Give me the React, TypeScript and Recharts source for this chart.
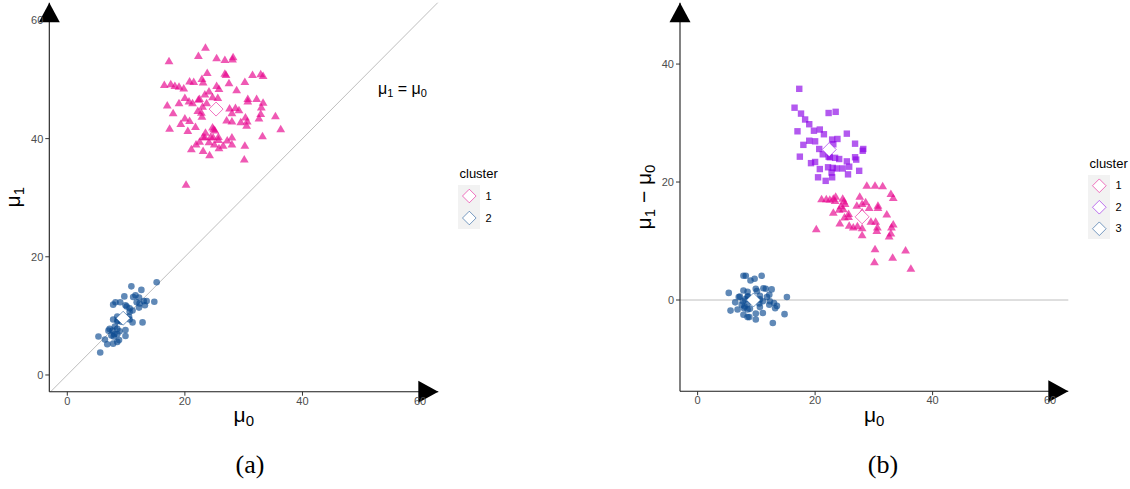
import React from 'react';
import { ScatterChart, Scatter, XAxis, YAxis, ReferenceLine, ReferenceDot, Label } from 'recharts';

// ---- data (mu0, mu1 - mu0) ----
const pinkPairs: number[][] = [
  [28.8, 19.4], [30.2, 19.4], [31.5, 19.3], [32.9, 18.0], [33.3, 17.3], [21.1, 17.1], [22.5, 17.0],
  [23.1, 17.2], [23.5, 17.5], [24.7, 17.2], [24.9, 16.7], [25.1, 16.3], [27.6, 17.5], [28.0, 16.3],
  [28.6, 16.6], [29.2, 15.6], [30.7, 16.0], [23.1, 14.8], [24.1, 15.3], [24.8, 15.4], [25.7, 14.6],
  [25.0, 14.0], [24.2, 13.0], [25.7, 14.1], [25.8, 12.6], [27.2, 12.5], [28.0, 12.2], [28.0, 11.0],
  [29.5, 13.3], [30.3, 13.3], [30.6, 12.3], [30.5, 11.7], [32.2, 14.5], [33.3, 12.8], [33.0, 12.3],
  [32.9, 11.3], [32.6, 10.8], [20.2, 12.0], [30.2, 8.6], [35.4, 8.4], [33.2, 7.2], [30.1, 6.4],
  [36.3, 5.3], [30.7, 15.6], [26.5, 12.3], [23.4, 16.8], [27.1, 16.0], [28.0, 14.9], [21.9, 17.1],
  [24.4, 15.9],
];
const purplePairs: number[][] = [
  [17.3, 35.8], [16.5, 32.6], [17.6, 31.6], [18.3, 30.6], [19.0, 29.8], [22.3, 31.7], [23.5, 31.9],
  [17.0, 28.6], [19.8, 28.7], [20.8, 28.9], [21.5, 28.1], [25.4, 28.2], [19.0, 27.0], [20.0, 26.9],
  [18.0, 26.3], [22.9, 27.2], [23.8, 27.3], [26.8, 26.5], [20.7, 25.6], [23.1, 26.4], [17.4, 24.3],
  [28.2, 25.6], [28.1, 25.3], [20.0, 23.4], [21.3, 24.7], [22.5, 24.2], [23.4, 24.1], [24.1, 23.9],
  [25.4, 23.5], [26.8, 24.2], [27.0, 23.8], [20.8, 22.2], [22.2, 22.5], [23.0, 22.4], [23.7, 22.3],
  [24.7, 22.3], [25.8, 22.6], [22.8, 21.6], [27.5, 21.9], [20.5, 20.8], [22.9, 20.8], [25.6, 21.3],
  [21.8, 20.2], [19.3, 23.2], [22.3, 24.3],
];
const bluePairs: number[][] = [
  [7.8, 4.1], [8.2, 4.1], [9.0, 3.3], [9.7, 3.6], [10.9, 4.1], [5.3, 1.2], [7.8, 1.6], [8.5, 1.4],
  [9.9, 1.9], [11.2, 2.0], [11.6, 1.9], [12.6, 1.8], [7.2, 0.6], [7.0, 0.5], [10.6, 0.7], [12.2, 0.9],
  [15.2, 0.5], [6.4, -0.4], [7.7, -0.2], [8.5, -0.7], [10.5, -0.6], [12.2, -0.8], [13.0, -0.5],
  [13.5, -1.0], [13.2, -1.4], [5.6, -1.8], [6.8, -1.6], [7.9, -1.4], [8.5, -1.6], [8.9, -1.5],
  [10.6, -1.2], [7.8, -2.5], [8.5, -2.9], [8.8, -2.9], [9.9, -2.3], [11.1, -2.2], [9.9, -3.3],
  [12.8, -3.9], [14.8, -2.4], [8.6, 0.6], [8.1, 0.1], [9.2, -0.2], [10.1, 1.5], [11.1, -0.2],
  [11.8, 0.5], [7.5, -0.8], [8.0, -1.1], [8.5, 0.6], [10.6, 0.1], [12.3, -0.2],
];
// centroids (mu0, value)
const leftCentroids = [
  { x: 25.3, y: 45.0, c: 1 },
  { x: 9.5, y: 9.6, c: 2 },
];
const rightCentroids = [
  { x: 28.0, y: 14.1, c: 1 },
  { x: 22.4, y: 25.5, c: 2 },
  { x: 9.5, y: 0.0, c: 3 },
];
const axisTicks = [0, 20, 40, 60];
const rightYTicks = [0, 20, 40];
const leftLegendLabels = ['1', '2'];
const rightLegendLabels = ['1', '2', '3'];

const PINK = '#E6008C';
const PURPLE = '#8A00E6';
const BLUE = '#0B4A91';
const SANS = '"Liberation Sans", Arial, sans-serif';

const toLeft = (pairs: number[][]) => pairs.map(([m0, d]) => ({ x: m0, y: Math.round((m0 + d) * 10) / 10 }));
const toRight = (pairs: number[][]) => pairs.map(([m0, d]) => ({ x: m0, y: d }));

const leftC1 = toLeft([...pinkPairs, ...purplePairs]);
const leftC2 = toLeft(bluePairs);
const rightC1 = toRight(pinkPairs);
const rightC2 = toRight(purplePairs);
const rightC3 = toRight(bluePairs);

const OP = 0.65;
const Tri = (color: string) => (p: any) => {
  const { cx, cy } = p;
  if (cx == null || cy == null) return <g />;
  return (
    <polygon
      points={`${cx},${cy - 4.4} ${cx + 4.4},${cy + 3.1} ${cx - 4.4},${cy + 3.1}`}
      fill={color}
      fillOpacity={OP}
    />
  );
};
const Sq = (color: string) => (p: any) => {
  const { cx, cy } = p;
  if (cx == null || cy == null) return <g />;
  return <rect x={cx - 3.2} y={cy - 3.2} width={6.4} height={6.4} fill={color} fillOpacity={OP} />;
};
const Circ = (color: string) => (p: any) => {
  const { cx, cy } = p;
  if (cx == null || cy == null) return <g />;
  return <circle cx={cx} cy={cy} r={3.3} fill={color} fillOpacity={OP} />;
};
const colorFor = (c: number, n: number) => (n === 2 ? (c === 1 ? PINK : BLUE) : c === 1 ? PINK : c === 2 ? PURPLE : BLUE);
const Diamond = (n: number) => (p: any) => {
  const { cx, cy, payload } = p;
  if (cx == null || cy == null) return <g />;
  const col = colorFor(payload.c, n);
  const r = 7;
  return (
    <polygon
      points={`${cx},${cy - r} ${cx + r},${cy} ${cx},${cy + r} ${cx - r},${cy}`}
      fill="#fff"
      stroke={col}
      strokeOpacity={0.55}
      strokeWidth={1}
    />
  );
};
const UpArrow = (p: any) => {
  const { cx, cy } = p;
  return <polygon points={`${cx},${cy} ${cx + 10.5},${cy + 19.5} ${cx - 10.5},${cy + 19.5}`} fill="#000" />;
};
const RightArrow = (p: any) => {
  const { cx, cy } = p;
  return <polygon points={`${cx},${cy} ${cx - 20},${cy - 11} ${cx - 20},${cy + 11}`} fill="#000" />;
};
const AnnText = (p: any) => {
  const { cx, cy } = p;
  return (
    <text x={cx} y={cy} textAnchor="middle" fontFamily={SANS} fontSize={16} fill="#000">
      μ<tspan fontSize={11} dy={3}>1</tspan>
      <tspan dy={-3}> = μ</tspan>
      <tspan fontSize={11} dy={3}>0</tspan>
    </text>
  );
};

const XTitle = (props: any) => {
  const vb = props.viewBox || {};
  const x = vb.x + vb.width / 2;
  const y = vb.y + 30.5;
  return (
    <text x={x} y={y} textAnchor="middle" fontFamily={SANS} fontSize={21} fill="#000">
      μ<tspan fontSize={15} dy={4}>0</tspan>
    </text>
  );
};
const YTitle = (diff: boolean) => (props: any) => {
  const vb = props.viewBox || {};
  const x = vb.x + vb.width - 28.8;
  const y = vb.y + vb.height / 2;
  return (
    <text
      x={x}
      y={y}
      textAnchor="middle"
      transform={`rotate(-90 ${x} ${y})`}
      fontFamily={SANS}
      fontSize={21}
      fill="#000"
    >
      μ<tspan fontSize={15} dy={4}>1</tspan>
      {diff ? (
        <>
          <tspan dy={-4}> − μ</tspan>
          <tspan fontSize={15} dy={4}>0</tspan>
        </>
      ) : null}
    </text>
  );
};

const tickStyle = { fill: '#4D4D4D', fontSize: 11, fontFamily: SANS };
const axisLineStyle = { stroke: '#1a1a1a', strokeWidth: 1.1 };
const tickLineStyle = { stroke: '#333', strokeWidth: 1 };

const LX: [number, number] = [-3.06, 63.1];
const LY: [number, number] = [-2.83, 63.0];
const RX: [number, number] = [-3.0, 63.1];
const RY: [number, number] = [-15.46, 50.4];

function LegendBox({ left, top, labels, colors }: { left: number; top: number; labels: string[]; colors: string[] }) {
  const rowH = labels.length === 2 ? 22 : 21.5;
  return (
    <div style={{ position: 'absolute', left, top, fontFamily: SANS }}>
      <div style={{ position: 'absolute', left: 2, top: 0, fontSize: 13, lineHeight: '15px', whiteSpace: 'nowrap', color: '#000' }}>
        cluster
      </div>
      <div
        style={{
          position: 'absolute',
          left: 0,
          top: 18.5,
          width: 22.5,
          height: rowH * labels.length,
          background: '#F2F2F2',
        }}
      />
      <svg style={{ position: 'absolute', left: 0, top: 18.5 }} width={23} height={rowH * labels.length}>
        {labels.map((l, i) => {
          const cx = 11.3;
          const cy = rowH * i + rowH / 2;
          const r = 6.8;
          return (
            <polygon
              key={l}
              points={`${cx},${cy - r} ${cx + r},${cy} ${cx},${cy + r} ${cx - r},${cy}`}
              fill="#fff"
              stroke={colors[i]}
              strokeOpacity={0.55}
              strokeWidth={1}
            />
          );
        })}
      </svg>
      {labels.map((l, i) => (
        <div
          key={l}
          style={{
            position: 'absolute',
            left: 28,
            top: 18.5 + rowH * i + rowH / 2 - 7,
            fontSize: 11,
            lineHeight: '14px',
            color: '#000',
          }}
        >
          {l}
        </div>
      ))}
    </div>
  );
}

export default function App() {
  return (
    <div style={{ position: 'absolute', left: 0, top: 0, width: 1130, height: 489, background: '#fff', overflow: 'hidden' }}>
      <div style={{ position: 'absolute', left: 0, top: 0 }}>
        <ScatterChart width={450} height={440} margin={{ top: 2.7, right: 11.7, bottom: 3.3, left: 19.3 }}>
          <XAxis
            type="number"
            dataKey="x"
            domain={LX}
            allowDataOverflow
            ticks={axisTicks}
            tick={tickStyle}
            tickSize={4}
            tickMargin={1}
            height={45}
            axisLine={axisLineStyle}
            tickLine={tickLineStyle}
          >
            <Label content={XTitle} />
          </XAxis>
          <YAxis
            type="number"
            dataKey="y"
            domain={LY}
            allowDataOverflow
            ticks={axisTicks}
            tick={tickStyle}
            tickSize={4}
            tickMargin={2}
            width={30}
            axisLine={axisLineStyle}
            tickLine={tickLineStyle}
          >
            <Label content={YTitle(false)} />
          </YAxis>
          <ReferenceLine
            segment={[{ x: -2.83, y: -2.83 }, { x: 63, y: 63 }]}
            stroke="#BEBEBE"
            strokeWidth={1}
            ifOverflow="visible"
          />
          <Scatter data={leftC1} shape={Tri(PINK)} isAnimationActive={false} />
          <Scatter data={leftC2} shape={Circ(BLUE)} isAnimationActive={false} />
          <Scatter data={leftCentroids} shape={Diamond(2)} isAnimationActive={false} />
          <ReferenceDot x={57} y={47.6} ifOverflow="visible" shape={AnnText} />
          <ReferenceDot x={LX[0]} y={LY[1]} ifOverflow="visible" shape={UpArrow} />
          <ReferenceDot x={LX[1]} y={LY[0]} ifOverflow="visible" shape={RightArrow} />
        </ScatterChart>
      </div>
      <LegendBox left={457.5} top={166} labels={leftLegendLabels} colors={[PINK, BLUE]} />

      <div style={{ position: 'absolute', left: 600, top: 0 }}>
        <ScatterChart width={480} height={440} margin={{ top: 2.7, right: 11.7, bottom: 3.8, left: 50 }}>
          <XAxis
            type="number"
            dataKey="x"
            domain={RX}
            allowDataOverflow
            ticks={axisTicks}
            tick={tickStyle}
            tickSize={4}
            tickMargin={1}
            height={45}
            axisLine={axisLineStyle}
            tickLine={tickLineStyle}
          >
            <Label content={XTitle} />
          </XAxis>
          <YAxis
            type="number"
            dataKey="y"
            domain={RY}
            allowDataOverflow
            ticks={rightYTicks}
            tick={tickStyle}
            tickSize={4}
            tickMargin={2}
            width={30}
            axisLine={axisLineStyle}
            tickLine={tickLineStyle}
          >
            <Label content={YTitle(true)} />
          </YAxis>
          <ReferenceLine y={0} stroke="#BEBEBE" strokeWidth={1} />
          <Scatter data={rightC1} shape={Tri(PINK)} isAnimationActive={false} />
          <Scatter data={rightC2} shape={Sq(PURPLE)} isAnimationActive={false} />
          <Scatter data={rightC3} shape={Circ(BLUE)} isAnimationActive={false} />
          <Scatter data={rightCentroids} shape={Diamond(3)} isAnimationActive={false} />
          <ReferenceDot x={RX[0]} y={RY[1]} ifOverflow="visible" shape={UpArrow} />
          <ReferenceDot x={RX[1]} y={RY[0]} ifOverflow="visible" shape={RightArrow} />
        </ScatterChart>
      </div>
      <LegendBox left={1087.5} top={156} labels={rightLegendLabels} colors={[PINK, PURPLE, BLUE]} />

      <div
        style={{
          position: 'absolute',
          left: 200,
          width: 100,
          top: 450,
          textAlign: 'center',
          fontFamily: '"Liberation Serif", "DejaVu Serif", serif',
          fontSize: 26,
          lineHeight: '30px',
        }}
      >
        (a)
      </div>
      <div
        style={{
          position: 'absolute',
          left: 833,
          width: 100,
          top: 450,
          textAlign: 'center',
          fontFamily: '"Liberation Serif", "DejaVu Serif", serif',
          fontSize: 26,
          lineHeight: '30px',
        }}
      >
        (b)
      </div>
    </div>
  );
}
